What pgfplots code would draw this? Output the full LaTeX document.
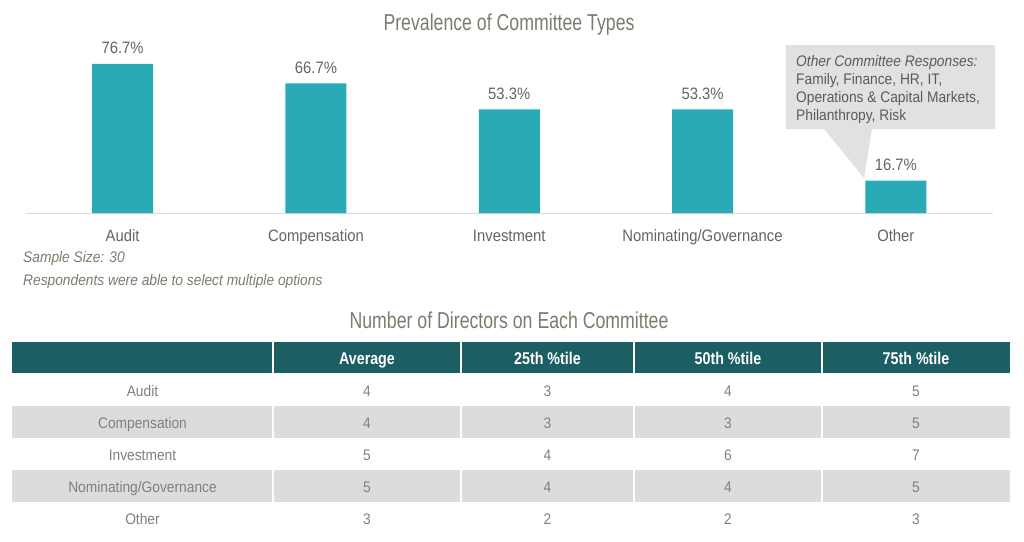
\documentclass[border=0pt]{standalone}
\usepackage{pgfplots}
\pgfplotsset{compat=1.18}
\usepackage{fontspec}
\setmainfont[FakeStretch=0.9]{Liberation Sans}
\newfontfamily\titlefont[FakeStretch=0.77]{Liberation Sans}
\newfontfamily\hdrfont[FakeStretch=0.84]{Liberation Sans}
\definecolor{barteal}{RGB}{41,170,181}
\definecolor{hdrteal}{RGB}{27,94,99}
\definecolor{rowgray}{RGB}{220,220,222}
\definecolor{titlecol}{RGB}{122,124,108}
\definecolor{labcol}{RGB}{100,100,100}
\definecolor{cellcol}{RGB}{128,128,128}
\definecolor{callgray}{RGB}{225,225,225}
\definecolor{calltext}{RGB}{90,90,90}
\definecolor{basecol}{RGB}{215,218,222}
\begin{document}
\begin{tikzpicture}
\begin{scope}[x=1pt,y=1pt]
\useasboundingbox (0,0) rectangle (1024,-541);
% chart title
\node[text=titlecol, font=\titlefont\fontsize{23}{26}\selectfont, anchor=base, inner sep=0pt] at (509,-30) {Prevalence of Committee Types};
% callout
\fill[callgray] (786,-45) -- (995,-45) -- (995,-129) -- (872,-129) -- (864,-178) -- (824,-129) -- (786,-129) -- cycle;
\node[anchor=base west, inner sep=0pt, text=calltext, font=\itshape\fontsize{15.3}{18}\selectfont] at (796,-66) {Other Committee Responses:};
\node[anchor=base west, inner sep=0pt, text=calltext, font=\fontsize{15.3}{18}\selectfont] at (796,-84.5) {Family, Finance, HR, IT,};
\node[anchor=base west, inner sep=0pt, text=calltext, font=\fontsize{15.3}{18}\selectfont] at (796,-102.5) {Operations \& Capital Markets,};
\node[anchor=base west, inner sep=0pt, text=calltext, font=\fontsize{15.3}{18}\selectfont] at (796,-120.5) {Philanthropy, Risk};
\end{scope}
% bar chart
\begin{axis}[at={(26pt,-213pt)}, anchor=south west, scale only axis,
  width=966.5pt, height=194.3pt,
  xmin=-0.5, xmax=4.5, ymin=0, ymax=100, enlargelimits=false,
  axis x line*=bottom, hide y axis,
  axis line style={draw=basecol, line width=1pt, -},
  xtick=data,
  xticklabels={Audit,Compensation,Investment,Nominating/Governance,Other},
  major tick length=0pt,
  xticklabel style={font=\fontsize{16.5}{19}\selectfont, text=labcol, anchor=base, yshift=-28pt, inner sep=0pt},
  ybar, bar width=61pt,
  point meta=explicit symbolic,
  nodes near coords={\pgfplotspointmeta\%},
  every node near coord/.append style={font=\fontsize{16.5}{19}\selectfont, text=labcol, anchor=base, yshift=10pt, inner sep=0pt},
  /pgf/number format/assume math mode=true,
  clip=false]
\addplot[fill=barteal, draw=none] coordinates {(0,76.7)[76.7] (1,66.7)[66.7] (2,53.3)[53.3] (3,53.3)[53.3] (4,16.7)[16.7]};
\end{axis}
\begin{scope}[x=1pt,y=1pt]
% notes
\node[anchor=base west, inner sep=0pt, text=titlecol, font=\itshape\fontsize{15.3}{18}\selectfont] at (23,-262) {Sample Size: 30};
\node[anchor=base west, inner sep=0pt, text=titlecol, font=\itshape\fontsize{15.3}{18}\selectfont] at (23,-285) {Respondents were able to select multiple options};
% table title
\node[text=titlecol, font=\titlefont\fontsize{23}{26}\selectfont, anchor=base, inner sep=0pt] at (509,-328) {Number of Directors on Each Committee};
% table
\fill[hdrteal] (12,-342) rectangle (1010,-373);
\fill[rowgray] (12,-406) rectangle (1010,-438);
\fill[rowgray] (12,-470) rectangle (1010,-502);
\foreach \x in {273,461,634,822} \draw[white, line width=1.5pt] (\x,-342) -- (\x,-534);
\foreach \h/\x in {Average/367, 25th \%tile/547.5, 50th \%tile/728, 75th \%tile/916}
  \node[anchor=base, inner sep=0pt, text=white, font=\hdrfont\bfseries\fontsize{17}{20}\selectfont] at (\x,-364) {\h};
\foreach \name/\a/\b/\c/\d [count=\i] in {Audit/4/3/4/5, Compensation/4/3/3/5, Investment/5/4/6/7, {Nominating/Governance}/5/4/4/5, Other/3/2/2/3} {
  \pgfmathsetmacro\yb{-(396+32*(\i-1))}
  \node[anchor=base, inner sep=0pt, text=cellcol, font=\fontsize{15.3}{18}\selectfont] at (142.5,\yb) {\name};
  \node[anchor=base, inner sep=0pt, text=cellcol, font=\fontsize{15.3}{18}\selectfont] at (367,\yb) {\a};
  \node[anchor=base, inner sep=0pt, text=cellcol, font=\fontsize{15.3}{18}\selectfont] at (547.5,\yb) {\b};
  \node[anchor=base, inner sep=0pt, text=cellcol, font=\fontsize{15.3}{18}\selectfont] at (728,\yb) {\c};
  \node[anchor=base, inner sep=0pt, text=cellcol, font=\fontsize{15.3}{18}\selectfont] at (916,\yb) {\d};
}
\end{scope}
\end{tikzpicture}
\end{document}
